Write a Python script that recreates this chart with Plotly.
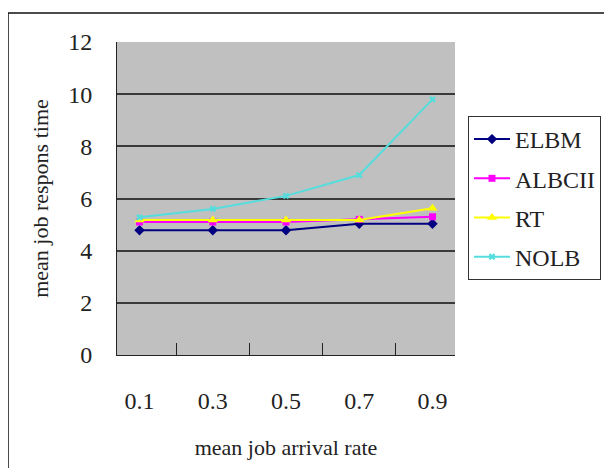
import plotly.graph_objects as go

categories = ["0.1", "0.3", "0.5", "0.7", "0.9"]
elbm = [4.78, 4.78, 4.78, 5.03, 5.03]
albcii = [5.1, 5.1, 5.1, 5.2, 5.3]
rt = [5.18, 5.18, 5.18, 5.18, 5.63]
nolb = [5.28, 5.6, 6.1, 6.9, 9.8]
y_ticks = [0, 2, 4, 6, 8, 10, 12]

series = [
    ("ELBM", elbm, "#000080", "diamond", 8),
    ("ALBCII", albcii, "#FF00FF", "square", 7),
    ("RT", rt, "#FFFF00", "triangle-up", 9),
    ("NOLB", nolb, "#55DDDD", "x", 6),
]

FONT = "Liberation Serif"
TXT = "#222222"
fig = go.Figure()
for name, vals, color, sym, sz in series:
    fig.add_trace(go.Scatter(
        x=categories, y=vals, name=name, mode="lines+markers",
        line=dict(color=color, width=2),
        marker=dict(symbol=sym, size=sz, color=color),
        legendgroup=name,
    ))

# page body has an 8px default margin, so work in window pixels minus 8
OFF = 8
W, H = 612 - OFF, 468 - OFF
L, R, T, B = 117 - OFF, 612 - 455, 42 - OFF, 468 - 355
pw, ph = W - L - R, H - T - B

def px_x(v):
    return (v - OFF - L) / pw

def px_y(v):
    return (H - B - (v - OFF)) / ph

fig.update_layout(
    width=W, height=H,
    margin=dict(l=L, r=R, t=T, b=B, autoexpand=False),
    paper_bgcolor="white",
    plot_bgcolor="#C0C0C0",
    font=dict(family=FONT, color=TXT),
    showlegend=True,
    legend=dict(
        x=px_x(468), y=px_y(116), xanchor="left", yanchor="top",
        bordercolor="#333333", borderwidth=1, bgcolor="white",
        font=dict(family=FONT, size=24, color=TXT),
        traceorder="grouped", tracegroupgap=5,
        itemwidth=36,
    ),
    xaxis=dict(
        type="category",
        automargin=False,
        tickson="boundaries",
        ticks="inside", ticklen=12, tickcolor=TXT, tickwidth=1,
        showline=True, linecolor=TXT, linewidth=1,
        showgrid=False, zeroline=False,
        tickfont=dict(family=FONT, size=24, color=TXT),
        ticklabelstandoff=24,
        title=dict(text="mean job arrival rate",
                   font=dict(family=FONT, size=22, color=TXT),
                   standoff=26),
    ),
    yaxis=dict(
        range=[0, 12],
        automargin=False,
        tickvals=y_ticks,
        showline=True, linecolor=TXT, linewidth=1,
        showgrid=True, gridcolor="#3a3a3a", gridwidth=2,
        zeroline=False,
        ticks="",
        tickfont=dict(family=FONT, size=24, color=TXT),
        ticklabelstandoff=19,
        title=dict(text="mean job respons time",
                   font=dict(family=FONT, size=22, color=TXT),
                   standoff=13),
    ),
    shapes=[
        dict(type="rect", xref="paper", yref="paper",
             x0=px_x(8), x1=px_x(640), y0=px_y(500), y1=px_y(13),
             line=dict(color="#111111", width=1.5), fillcolor="rgba(0,0,0,0)",
             layer="below"),
    ],
)

fig.write_html("out.html")
